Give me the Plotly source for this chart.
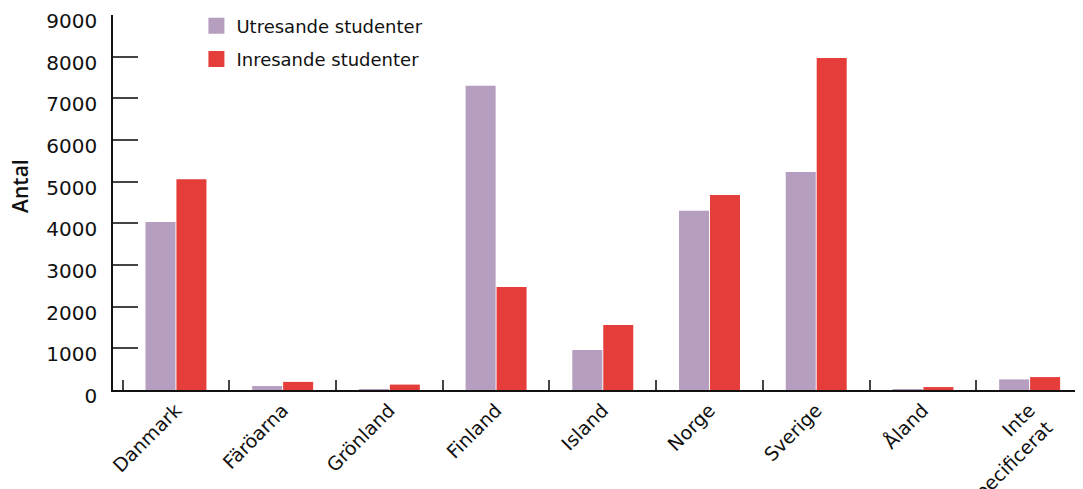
import plotly.graph_objects as go

categories = ["Danmark", "Färöarna", "Grönland", "Finland", "Island", "Norge", "Sverige", "Åland", "Inte<br>specificerat"]
utresande = [4030, 95, 20, 7300, 960, 4300, 5230, 20, 255]
inresande = [5060, 195, 130, 2470, 1560, 4680, 7970, 70, 310]
y_ticks = [0, 1000, 2000, 3000, 4000, 5000, 6000, 7000, 8000, 9000]
series_names = ["Utresande studenter", "Inresande studenter"]
colors = ["#B59EC0", "#E53E3A"]

FONT = "DejaVu Sans"
fig = go.Figure()
for name, vals, col, grp in zip(series_names, [utresande, inresande], colors, ["u", "i"]):
    fig.add_trace(go.Bar(name=name, x=categories, y=vals, showlegend=False, legendgroup=grp,
                         marker=dict(color=col, line=dict(width=0))))
for name, col, grp in zip(series_names, colors, ["u", "i"]):
    fig.add_trace(go.Scatter(name=name, x=[None], y=[None], mode="markers", legendgroup=grp,
                             marker=dict(symbol="square", size=20, color=col)))

fig.update_layout(
    width=1083, height=489,
    margin=dict(l=105, r=8, t=7, b=107, autoexpand=False),
    plot_bgcolor="white", paper_bgcolor="white",
    barmode="group", bargap=0.42, bargroupgap=0.03,
    font=dict(family=FONT, color="#111111", size=20),
    legend=dict(x=0.086, y=1.02, xanchor="left", yanchor="top",
                font=dict(size=18), bgcolor="rgba(0,0,0,0)",
                traceorder="grouped", tracegroupgap=7, itemwidth=30),
    showlegend=True,
)
fig.update_xaxes(
    type="category",
    range=[-0.59, 8.5], showline=True, linecolor="#111111", linewidth=1.5,
    ticks="inside", tickson="boundaries", ticklen=10, tickcolor="#444444", tickwidth=2,
    tickangle=-45, tickfont=dict(size=19), showgrid=False, zeroline=False, automargin=False,
)
fig.update_yaxes(
    range=[0, 9000], tickvals=y_ticks, showline=True, linecolor="#111111", linewidth=1.5,
    ticks="inside", ticklen=25, tickcolor="#444444", tickwidth=2,
    ticklabelstandoff=10, ticklabelshift=6, ticklabeloverflow="allow",
    showgrid=False, zeroline=False, automargin=False,
)
fig.add_annotation(text="Antal", xref="paper", yref="paper", x=-0.096, y=0.544,
                   xanchor="center", yanchor="middle", textangle=-90, showarrow=False,
                   font=dict(family="Open Sans", size=21, weight=600, color="#111111"))
fig.write_html("out.html")
